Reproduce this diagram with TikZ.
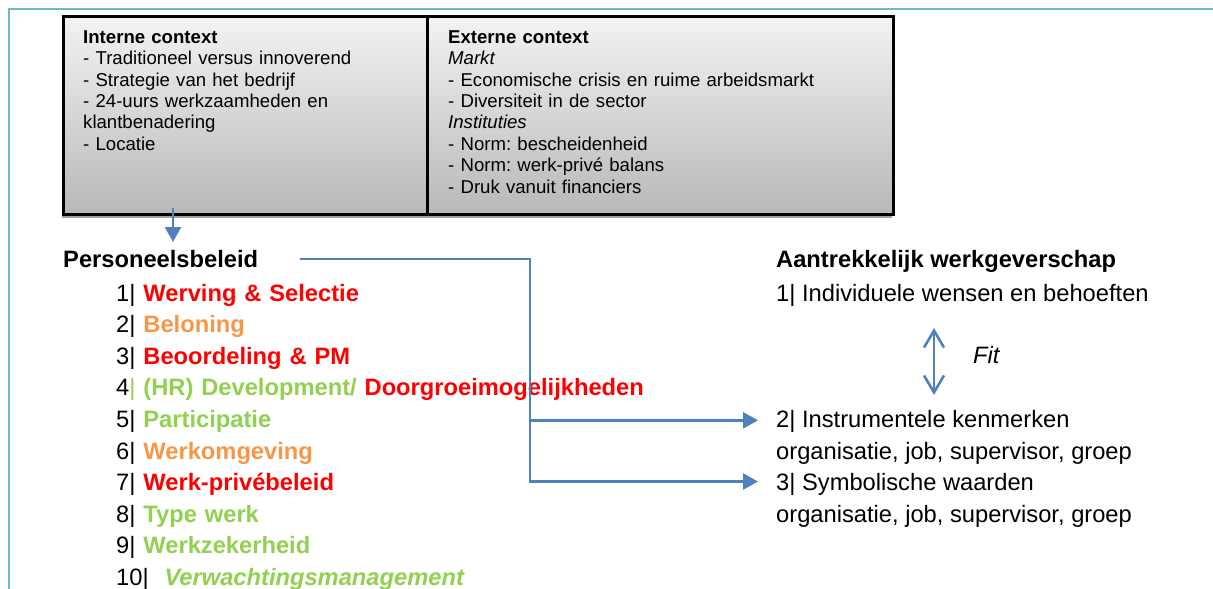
\documentclass[tikz,border=0pt]{standalone}
\usepackage{fontspec}
\setmainfont{Liberation Sans}
\usetikzlibrary{arrows.meta}
\frenchspacing
\definecolor{hrred}{RGB}{255,0,0}
\definecolor{hrorange}{RGB}{247,150,70}
\definecolor{hrgreen}{RGB}{146,208,80}
\definecolor{linkblue}{RGB}{79,129,189}
\definecolor{framecyan}{RGB}{110,185,210}
\definecolor{boxtop}{RGB}{243,243,243}
\definecolor{boxbottom}{RGB}{184,184,184}
\definecolor{shadowgray}{RGB}{160,160,160}
\begin{document}
\begin{tikzpicture}[x=1pt,y=-1pt,
  boxtext/.style={anchor=base west, inner sep=0pt, align=left, text width=400pt,
    font=\fontsize{18.6}{21.4}\selectfont},
  bigtext/.style={anchor=base west, inner sep=0pt,
    font=\fontsize{23.7}{31.6}\selectfont},
  conn/.style={draw=linkblue, line width=2.6pt},
  tip/.style={-{Triangle[length=15pt,width=16pt]}},
  barbs/.style={{Straight Barb[length=17pt,width=20pt]}-{Straight Barb[length=17pt,width=20pt]}}]
\useasboundingbox (0,0) rectangle (1213,589);

% page frame
\draw[framecyan, line width=2pt] (9.3,589) -- (9.3,9.3) -- (1213,9.3);

% context box with drop shadow and divider
\fill[shadowgray] (62,18) rectangle (892,217.5);
\node[draw=black, line width=2.6pt, top color=boxtop, bottom color=boxbottom,
  anchor=north west, minimum width=830pt, minimum height=198pt, inner sep=0pt]
  (ctx) at (62,15) {};
\draw[line width=2.6pt] ([xshift=365.5pt]ctx.north west) -- ([xshift=365.5pt]ctx.south west);

\node[boxtext] (intern) at (83,43.3) {\textbf{Interne context}\\
- Traditioneel versus innoverend\\
- Strategie van het bedrijf\\
- 24-uurs werkzaamheden en\\
klantbenadering\\
- Locatie};

\node[boxtext] (extern) at (448,43.3) {\textbf{Externe context}\\
\textit{Markt}\\
- Economische crisis en ruime arbeidsmarkt\\
- Diversiteit in de sector\\
\textit{Instituties}\\
- Norm: bescheidenheid\\
- Norm: werk-privé balans\\
- Druk vanuit financiers};

% HR policy
\node[bigtext] (pb) at (63,267.3) {\textbf{Personeelsbeleid}};
\node[bigtext, align=left, text width=700pt] (list) at (116,301) {%
1| \textbf{\color{hrred}Werving \& Selectie}\\
2| \textbf{\color{hrorange}Beloning}\\
3| \textbf{\color{hrred}Beoordeling \& PM}\\
4{\color{hrgreen}| \textbf{(HR) Development/ }}\textbf{\color{hrred}Doorgroeimogelijkheden}\\
5| \textbf{\color{hrgreen}Participatie}\\
6| \textbf{\color{hrorange}Werkomgeving}\\
7| \textbf{\color{hrred}Werk-privébeleid}\\
8| \textbf{\color{hrgreen}Type werk}\\
9| \textbf{\color{hrgreen}Werkzekerheid}\\
10|\ \ \textbf{\textit{\color{hrgreen}Verwachtingsmanagement}}};

% attractive employership
\node[bigtext] (aw) at (776,267.5) {\textbf{Aantrekkelijk werkgeverschap}};
\node[bigtext] (i1) at (776,301) {1| Individuele wensen en behoeften};
\node[bigtext] (i2) at (776,427.4) {2| Instrumentele kenmerken};
\node[bigtext] (i2b) at (776,459) {organisatie, job, supervisor, groep};
\node[bigtext] (i3) at (776,490.6) {3| Symbolische waarden};
\node[bigtext] (i3b) at (776,522.2) {organisatie, job, supervisor, groep};
\node[anchor=west, inner sep=0pt, font=\fontsize{23.7}{28}\selectfont\itshape] (fit) at (973,355) {Fit};

% connectors
\coordinate (d0) at (173,208);
\coordinate (d1) at (173,242);
\draw[conn, tip] (d0) -- (d1);

\coordinate (p0) at ([xshift=42pt]pb.east);
\coordinate (vx) at (530,0);
\coordinate (e2) at ([xshift=-18pt,yshift=1pt]i2.west);
\coordinate (e3) at ([xshift=-18pt,yshift=3pt]i3.west);
\draw[conn, tip] (p0) -| (vx |- e3) -- (e3);
\draw[conn, tip] (vx |- e2) -- (e2);

\coordinate (f1) at (934,328);
\coordinate (f2) at (934,395);
\draw[conn, barbs] (f1) -- (f2);
\end{tikzpicture}
\end{document}
